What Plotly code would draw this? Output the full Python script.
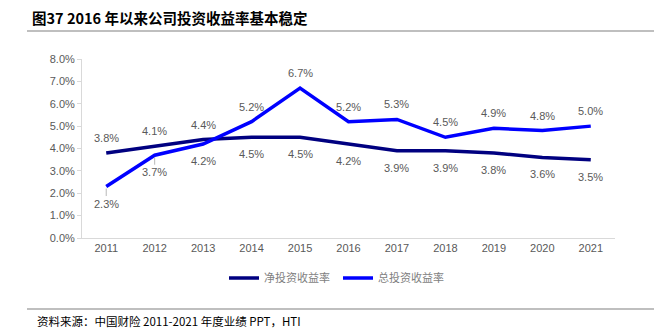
import plotly.graph_objects as go

years = ["2011", "2012", "2013", "2014", "2015", "2016", "2017", "2018", "2019", "2020", "2021"]
net_yield = [3.8, 4.1, 4.4, 4.5, 4.5, 4.2, 3.9, 3.9, 3.8, 3.6, 3.5]
total_yield = [2.3, 3.7, 4.2, 5.2, 6.7, 5.2, 5.3, 4.5, 4.9, 4.8, 5.0]
net_label_side = ["up", "up", "up", "down", "down", "down", "down", "down", "down", "down", "down"]
total_label_side = ["down", "down", "down", "up", "up", "up", "up", "up", "up", "up", "up"]
total_leader = [True, True, False, False, False, False, False, False, False, False, False]
y_ticks = [0, 1, 2, 3, 4, 5, 6, 7, 8]

W, H = 654, 336
L, R, T, B = 82, 39, 59, 98
pw, ph = W - L - R, H - T - B

def px(x):
    return (x - L) / pw

def py(y):
    return (H - B - y) / ph

NET_C = "#000080"
TOT_C = "#0000ff"
LBL = dict(family="Liberation Sans, Arial", size=11, color="#595959")

fig = go.Figure()
fig.add_trace(go.Scatter(x=years, y=net_yield, mode="lines", name="净投资收益率",
                         line=dict(color=NET_C, width=3.5)))
fig.add_trace(go.Scatter(x=years, y=total_yield, mode="lines", name="总投资收益率",
                         line=dict(color=TOT_C, width=3.5)))

anns = []
for vals, sides, leaders in [(net_yield, net_label_side, [False] * len(years)),
                             (total_yield, total_label_side, total_leader)]:
    for i, (v, s, ld) in enumerate(zip(vals, sides, leaders)):
        off = -15 if s == "up" else 17
        if ld:
            anns.append(dict(x=i, y=v, xref="x", yref="y", text=f"{v:.1f}%", showarrow=True,
                             ax=0, ay=off, arrowhead=0, arrowwidth=0.8, arrowcolor="#a6a6a6",
                             standoff=2, font=LBL))
        else:
            anns.append(dict(x=i, y=v, xref="x", yref="y", text=f"{v:.1f}%", showarrow=False,
                             yshift=-off, font=LBL))

anns += [
    dict(text="<b>图37 2016 年以来公司投资收益率基本稳定</b>", xref="paper", yref="paper",
         x=px(30), y=py(18), xanchor="left", yanchor="middle", showarrow=False,
         font=dict(family="Noto Sans CJK SC", size=14.5, color="#000000")),
    dict(text="资料来源：中国财险 2011-2021 年度业绩 PPT，HTI", xref="paper", yref="paper",
         x=px(35), y=py(321), xanchor="left", yanchor="middle", showarrow=False,
         font=dict(family="Noto Sans CJK SC", size=11.5, color="#000000")),
]

fig.update_layout(
    width=W, height=H,
    margin=dict(l=L, r=R, t=T, b=B),
    paper_bgcolor="white", plot_bgcolor="white",
    showlegend=True,
    legend=dict(orientation="h", x=px(224), xanchor="left", y=py(278), yanchor="middle",
                font=dict(family="Noto Sans CJK SC", size=11, color="#7f7f7f"),
                itemwidth=30, entrywidth=69, bgcolor="rgba(0,0,0,0)"),
    xaxis=dict(type="category", range=[-0.5, len(years) - 0.5], showgrid=False, showline=True,
               linecolor="#d9d9d9", linewidth=1, ticks="",
               tickfont=dict(family="Liberation Sans, Arial", size=11, color="#595959"),
               fixedrange=True),
    yaxis=dict(range=[0, 8], tickvals=y_ticks, ticktext=[f"{t:.1f}%" for t in y_ticks],
               showgrid=False, showline=True, linecolor="#d9d9d9", linewidth=1,
               ticks="outside", ticklen=4, tickcolor="#d9d9d9", zeroline=False,
               tickfont=dict(family="Liberation Sans, Arial", size=11, color="#595959")),
    shapes=[
        dict(type="line", xref="paper", yref="paper", x0=px(27), x1=px(654), y0=py(31), y1=py(31),
             line=dict(color="#808080", width=1.2)),
        dict(type="line", xref="paper", yref="paper", x0=px(27), x1=px(654), y0=py(309), y1=py(309),
             line=dict(color="#808080", width=1.2)),
    ],
    annotations=anns,
)

fig.write_html("out.html")
